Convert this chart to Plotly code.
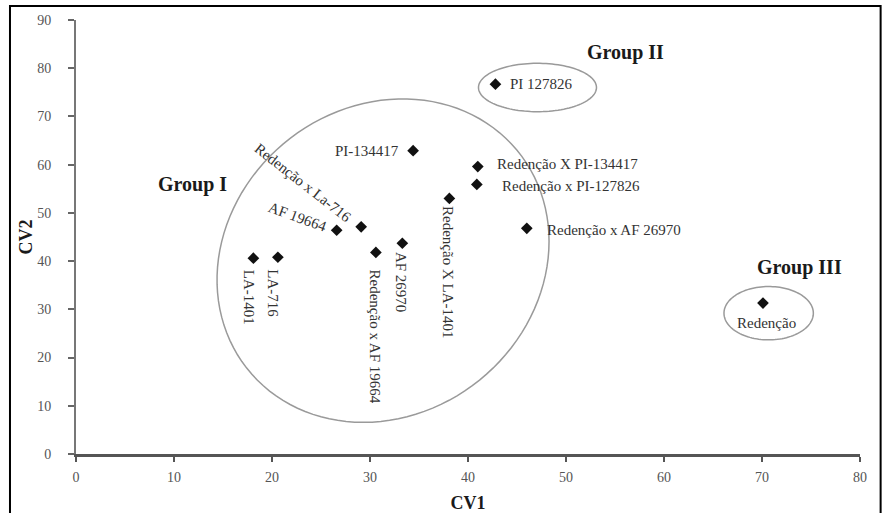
import numpy as np
import plotly.graph_objects as go

# ---- data ----
genotypes = [
    "LA-1401", "LA-716", "AF 19664", "Redenção x La-716", "Redenção x AF 19664",
    "AF 26970", "PI-134417", "Redenção X LA-1401", "Redenção X PI-134417",
    "Redenção x PI-127826", "Redenção x AF 26970", "PI 127826", "Redenção",
]
cv1 = [18.1, 20.6, 26.6, 29.1, 30.6, 33.3, 34.4, 38.1, 41.0, 40.9, 46.0, 42.8, 70.1]
cv2 = [40.6, 40.8, 46.4, 47.1, 41.8, 43.7, 62.9, 53.0, 59.6, 55.9, 46.8, 76.7, 31.3]

x_ticks = [0, 10, 20, 30, 40, 50, 60, 70, 80]
y_ticks = [0, 10, 20, 30, 40, 50, 60, 70, 80, 90]

group_names = ["Group I", "Group II", "Group III"]
group_label_x = [11.9, 56.1, 73.8]
group_label_y = [55.8, 83.2, 38.6]

# ---- label placement (style): angle, xanchor, yanchor, xshift px, yshift px (down positive)
placement = {
    "LA-1401": (90, "center", "middle", -5, 39),
    "LA-716": (90, "center", "middle", -5, 36),
    "AF 19664": (20, "center", "middle", -39, -13),
    "Redenção x La-716": (38, "center", "middle", -58, -44),
    "Redenção x AF 19664": (90, "center", "middle", -1, 84),
    "AF 26970": (90, "center", "middle", -2, 39),
    "PI-134417": (0, "right", "middle", -12, 0),
    "Redenção X LA-1401": (90, "center", "middle", -2, 74),
    "Redenção X PI-134417": (0, "left", "middle", 17, -3),
    "Redenção x PI-127826": (0, "left", "middle", 23, 2),
    "Redenção x AF 26970": (0, "left", "middle", 18, 2),
    "PI 127826": (0, "left", "middle", 13, 0),
    "Redenção": (0, "center", "top", 4, 10),
}

# ellipse outlines: centre x, centre y, x amplitude, y amplitude, y-tilt term
ellipses = [
    (31.33, 40.1, 16.94, 33.3, 4.0),
    (47.09, 76.0, 6.02, 5.02, 0.0),
    (70.68, 29.2, 4.56, 5.53, 0.0),
]

SERIF = "Liberation Serif"

fig = go.Figure()
fig.add_trace(go.Scatter(
    x=cv1, y=cv2, mode="markers",
    marker=dict(symbol="diamond", size=9, color="#111111"),
    hovertext=genotypes, showlegend=False,
))

for name, x, y in zip(genotypes, cv1, cv2):
    ang, xa, ya, dx, dy = placement[name]
    fig.add_annotation(
        x=x, y=y, text=name, showarrow=False, textangle=ang,
        xanchor=xa, yanchor=ya, xshift=dx, yshift=-dy,
        font=dict(family=SERIF, size=15, color="#333333"),
    )

for name, x, y in zip(group_names, group_label_x, group_label_y):
    fig.add_annotation(
        x=x, y=y, text="<b>%s</b>" % name, showarrow=False,
        font=dict(family=SERIF, size=20, color="#1a1a1a"),
    )

t = np.linspace(0, 2 * np.pi, 120)
for cx, cy, ax, ay, tilt in ellipses:
    ex = cx + ax * np.cos(t)
    ey = cy + tilt * np.cos(t) + ay * np.sin(t)
    path = "M " + " L ".join("%.3f,%.3f" % (a, b) for a, b in zip(ex, ey)) + " Z"
    fig.add_shape(type="path", path=path, xref="x", yref="y",
                  line=dict(color="#9a9a9a", width=1.5))

# outer frame
fig.add_shape(type="rect", xref="paper", yref="paper",
              x0=-0.0842, x1=1.0263, y0=-0.3, y1=1.0323,
              line=dict(color="#000000", width=2))

fig.update_layout(
    width=885, height=513,
    margin=dict(l=76, r=25, t=20, b=59),
    paper_bgcolor="white", plot_bgcolor="white",
    font=dict(family=SERIF),
    xaxis=dict(
        range=[0, 80], tickvals=x_ticks, ticktext=[str(v) for v in x_ticks],
        showgrid=False, zeroline=False, showline=True, linecolor="#555555", linewidth=2.5,
        ticks="outside", ticklen=5, tickwidth=1.5, tickcolor="#555555",
        tickfont=dict(family=SERIF, size=14, color="#555555"),
        ticklabelstandoff=3,
        title=dict(text="<b>CV1</b>", font=dict(family=SERIF, size=18, color="#1a1a1a"), standoff=13),
        automargin=False,
    ),
    yaxis=dict(
        range=[0, 90], tickvals=y_ticks, ticktext=[str(v) for v in y_ticks],
        showgrid=False, zeroline=False, showline=True, linecolor="#777777", linewidth=2,
        ticks="outside", ticklen=6, tickwidth=1.5, tickcolor="#666666",
        tickfont=dict(family=SERIF, size=14, color="#555555"),
        ticklabelstandoff=14,
        title=dict(text="<b>CV2</b>", font=dict(family=SERIF, size=18, color="#1a1a1a"), standoff=0),
        automargin=False,
    ),
)

fig.write_html(
    "out.html",
    config={"displayModeBar": False},
    post_script="document.body.style.margin='0';document.body.style.overflow='hidden';",
)
